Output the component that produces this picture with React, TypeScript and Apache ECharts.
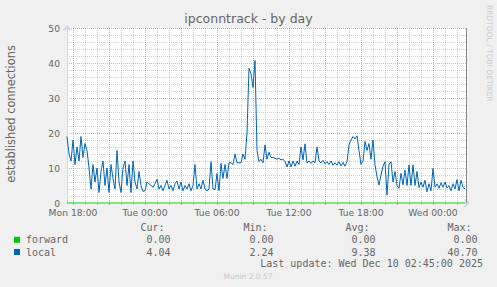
import React, { useEffect, useRef } from 'react';
import * as echarts from 'echarts';

// time axis in hours since Mon 00:00
const startHour = 17.5; // Mon 17:30
const stepHours = 1 / 6; // 10-minute samples
const endHour = 17.5 + 400 / 12;

const localValues: number[] = [
  19, 14, 12, 18, 11, 16, 12, 19, 13, 17,
  15, 10, 4, 11, 6, 10, 3, 9, 12, 5,
  10, 3, 11, 7, 4, 15, 6, 3, 10, 12,
  5, 11, 3, 12, 6, 4, 9, 5, 3.3, 3.5,
  6, 5.5, 5, 4.5, 5.5, 6.8, 4, 5, 3.5, 5,
  6.5, 4, 5, 3.5, 5.5, 6.3, 4, 6, 3.5, 5,
  4, 5.5, 3.5, 5, 11, 4, 5.5, 4, 6.5, 4,
  3.5, 4, 11.8, 4, 3.8, 8.4, 3.5, 11.3, 7, 11,
  7, 11.5, 11.5, 11, 14, 11.5, 11.5, 11.5, 14, 12.5,
  20, 38.5, 37, 33, 40.7, 15, 11.8, 12.5, 11.5, 16.6,
  12.5, 14.5, 13, 13, 12.8, 12.5, 12.8, 12.3, 12.5, 11.8,
  10.3, 12, 10.3, 12, 10.5, 12, 11, 16, 12.3, 16.9,
  11.5, 12, 11.3, 12, 11.5, 16, 12, 11.5, 12.2, 11.2,
  11.8, 11, 12, 10.8, 11.5, 10.8, 11.8, 10.6, 11.6, 10.5,
  11.8, 16.6, 18, 19, 18.3, 19.2, 15, 11, 12, 17.6,
  15, 17, 12.5, 18, 11, 7.5, 5.1, 8, 10.5, 11.8,
  2.24, 11, 11.8, 6, 9, 5, 4.2, 8.5, 5.2, 9.4,
  5, 10.9, 5, 10.9, 5, 9, 4.4, 6, 4.5, 6.5,
  3.2, 5.5, 3.5, 9.9, 4.5, 5.5, 4.2, 5.8, 4.5, 6,
  4.3, 5, 3.5, 5.5, 4, 6.7, 3.5, 6.5, 4.5, 4.04,
];
const forwardValues: number[] = localValues.map(() => 0);

const xTickHours = [18, 24, 30, 36, 42, 48];
const xTickLabels = ['Mon 18:00', 'Tue 00:00', 'Tue 06:00', 'Tue 12:00', 'Tue 18:00', 'Wed 00:00'];
const majorTickHours = [18, 21, 24, 27, 30, 33, 36, 39, 42, 45, 48];
const minorTickHours = [19, 20, 22, 23, 25, 26, 28, 29, 31, 32, 34, 35, 37, 38, 40, 41, 43, 44, 46, 47, 49, 50];

const legendNames = ['forward', 'local'];
const legendColors = ['#00cc00', '#0066b3'];
const curValues = ['0.00', '4.04'];
const minValues = ['0.00', '2.24'];
const avgValues = ['0.00', '9.38'];
const maxValues = ['0.00', '40.70'];

const MAJOR = 'rgba(255,0,0,0.37)';
const MINOR = 'rgba(128,128,128,0.37)';
const NONE = 'rgba(0,0,0,0)';
const AXIS = '#CFD6F8';
const FONT = '#666666';
const MONO = '"DejaVu Sans Mono", monospace';
const SANS = '"DejaVu Sans", sans-serif';

export default function App() {
  const ref = useRef<HTMLDivElement>(null);
  useEffect(() => {
    document.body.style.margin = '0';
    const chart = echarts.init(ref.current!, null, { renderer: 'svg' });
    const toPts = (arr: number[]) => arr.map((v, i) => [startHour + i * stepHours, v]);

    const rowY = [239.8, 252];
    const legendGraphics: any[] = [];
    const headers = [['Cur:', 164.5], ['Min:', 267.5], ['Avg:', 369.5], ['Max:', 471.5]];
    headers.forEach(([t, x]) => {
      legendGraphics.push({
        type: 'text', x, y: 227,
        style: { text: t, font: `10px ${MONO}`, fill: FONT, textAlign: 'right', textVerticalAlign: 'middle' },
      });
    });
    legendNames.forEach((name, i) => {
      legendGraphics.push({
        type: 'rect', shape: { x: 14, y: rowY[i] - 3, width: 6, height: 6 },
        style: { fill: legendColors[i] },
      });
      legendGraphics.push({
        type: 'text', x: 26, y: rowY[i],
        style: { text: name, font: `10px ${MONO}`, fill: FONT, textAlign: 'left', textVerticalAlign: 'middle' },
      });
      const cols: [string[], number][] = [[curValues, 170.5], [minValues, 273.5], [avgValues, 375.5], [maxValues, 477.5]];
      cols.forEach(([vals, x]) => {
        legendGraphics.push({
          type: 'text', x, y: rowY[i],
          style: { text: vals[i], font: `10px ${MONO}`, fill: FONT, textAlign: 'right', textVerticalAlign: 'middle' },
        });
      });
    });

    const tickAxis = (values: number[], color: string) => ({
      type: 'value', min: startHour, max: endHour, position: 'bottom', gridIndex: 0,
      axisLine: { show: false },
      axisLabel: { show: false },
      splitLine: { show: false },
      axisTick: { show: true, customValues: values, length: 2, lineStyle: { color, width: 1 } },
    });

    chart.setOption({
      animation: false,
      backgroundColor: '#f0f0f0',
      grid: { left: 67, top: 28, width: 400, height: 175, show: true, backgroundColor: '#ffffff', borderWidth: 0 },
      xAxis: [
        {
          type: 'value', min: startHour, max: endHour, interval: 0.5,
          axisLine: { show: true, onZero: false, lineStyle: { color: AXIS, width: 1 }, symbol: ['none', 'arrow'], symbolSize: [7, 6], symbolOffset: [0, 3] },
          axisTick: { show: false },
          axisLabel: {
            color: FONT, fontSize: 9.2, fontFamily: SANS, margin: 5,
            formatter: (v: number) => {
              const i = xTickHours.findIndex((h) => Math.abs(h - v) < 1e-6);
              return i >= 0 ? xTickLabels[i] : '';
            },
          },
          splitLine: {
            show: true, showMinLine: false, showMaxLine: false,
            lineStyle: { color: [MAJOR, NONE, MINOR, NONE, MINOR, NONE], type: [1, 1], width: 1 },
          },
        },
        tickAxis(majorTickHours, MAJOR),
        tickAxis(minorTickHours, MINOR),
      ],
      yAxis: {
        type: 'value', min: 0, max: 50, interval: 10,
        axisLine: { show: true, lineStyle: { color: AXIS, width: 1 }, symbol: ['none', 'arrow'], symbolSize: [7, 6], symbolOffset: [0, 3] },
        axisTick: { show: false },
        axisLabel: { color: FONT, fontSize: 9.2, fontFamily: SANS, margin: 7 },
        splitLine: { show: true, lineStyle: { color: MAJOR, type: [1, 1], width: 1 } },
        minorTick: { show: false, splitNumber: 5 },
        minorSplitLine: { show: true, lineStyle: { color: MINOR, type: [1, 1], width: 1 } },
      },
      series: [
        {
          name: 'forward', type: 'line', data: toPts(forwardValues), xAxisIndex: 0,
          showSymbol: false, symbol: 'none', lineStyle: { color: '#00cc00', width: 1 }, z: 3,
        },
        {
          name: 'local', type: 'line', data: toPts(localValues), xAxisIndex: 0,
          showSymbol: false, symbol: 'none', lineStyle: { color: '#0066b3', width: 1 }, z: 4,
        },
      ],
      graphic: [
        {
          type: 'text', x: 248.5, y: 18.5,
          style: { text: 'ipconntrack - by day', font: `12.5px ${SANS}`, fill: FONT, textAlign: 'center', textVerticalAlign: 'middle' },
        },
        {
          type: 'text', x: 11, y: 114, rotation: Math.PI / 2,
          style: { text: 'established connections', font: `11.4px ${SANS}`, fill: FONT, textAlign: 'center', textVerticalAlign: 'middle' },
        },
        {
          type: 'text', x: 489.5, y: 5, rotation: -Math.PI / 2,
          style: { text: 'RRDTOOL / TOBI OETIKER', font: `7.5px ${SANS}`, fill: '#cccccc', textAlign: 'left', textVerticalAlign: 'middle' },
        },
        {
          type: 'line', shape: { x1: 466.5, y1: 28, x2: 466.5, y2: 203 },
          style: { stroke: '#8a8a8a', lineWidth: 1 }, z: 10,
        },
        ...legendGraphics,
        {
          type: 'text', x: 483, y: 263.6,
          style: { text: 'Last update: Wed Dec 10 02:45:00 2025', font: `10px ${MONO}`, fill: FONT, textAlign: 'right', textVerticalAlign: 'middle' },
        },
        {
          type: 'text', x: 248, y: 276,
          style: { text: 'Munin 2.0.57', font: `7.5px ${SANS}`, fill: '#c8c8c8', textAlign: 'center', textVerticalAlign: 'middle' },
        },
      ],
    });
    return () => chart.dispose();
  }, []);
  return <div ref={ref} style={{ position: 'fixed', left: 0, top: 0, width: 497, height: 287 }} />;
}
